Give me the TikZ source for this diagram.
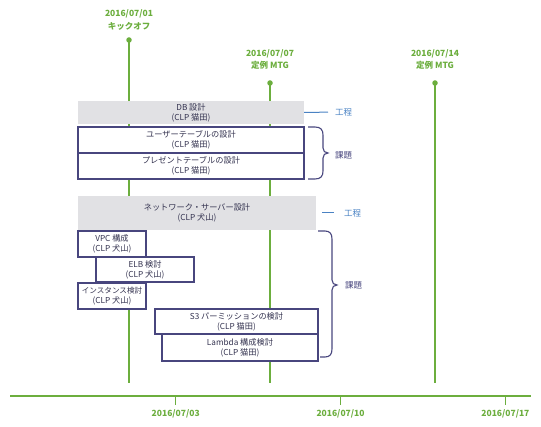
\documentclass[tikz,border=0pt]{standalone}
\usepackage{fontspec}
\setmainfont{Noto Sans CJK JP}
\definecolor{tlgreen}{HTML}{6CAE3E}
\definecolor{phasegray}{HTML}{E1E1E4}
\definecolor{boxtext}{HTML}{33324F}
\definecolor{boxline}{HTML}{48467E}
\definecolor{koteiblue}{HTML}{4A82C3}
\begin{document}
\begin{tikzpicture}[x=1pt,y=-1pt,
  lab/.style={text=tlgreen, font=\fontsize{8.5}{12.5}\selectfont\bfseries, align=center, inner sep=0},
  gline/.style={draw=tlgreen, line width=1.5pt},
  axisline/.style={draw=tlgreen, line width=1.3pt},
  dot/.style={circle, fill=tlgreen, inner sep=0, minimum size=5.5pt},
  phase/.style={fill=phasegray, text=boxtext, font=\fontsize{8.2}{10}\selectfont, align=center, inner sep=0},
  task/.style={draw=boxline, line width=1.1pt, fill=white, text=boxtext, font=\fontsize{8.2}{10}\selectfont, align=center, inner sep=0},
  kotei/.style={text=koteiblue, font=\fontsize{8.5}{10}\selectfont, inner sep=0},
  kadai/.style={text=boxline, font=\fontsize{8.5}{10}\selectfont, inner sep=0},
  koteiline/.style={draw=koteiblue, line width=1pt},
  bracel/.style={draw=boxline, line width=1.1pt}
]
\useasboundingbox (0,0) rectangle (541,427);

% top labels and dots
\node[lab] (l1) at (129,20) {2016/07/01\\キックオフ};
\node[lab] (l2) at (270,59.5) {2016/07/07\\定例 MTG};
\node[lab] (l3) at (435,59.5) {2016/07/14\\定例 MTG};
\node[dot] (d1) at (129,40) {};
\node[dot] (d2) at (270,83) {};
\node[dot] (d3) at (435,83) {};
\coordinate (e1) at (129,383);
\coordinate (e2) at (270,383);
\coordinate (e3) at (435,383);
\draw[gline] (d1.center) -- (e1);
\draw[gline] (d2.center) -- (e2);
\draw[gline] (d3.center) -- (e3);

% axis
\coordinate (a0) at (10,396);
\coordinate (a1) at (531,396);
\draw[axisline] (a0) -- (a1);
\node[lab, anchor=north] (t1) at (175.7,409) {2016/07/03};
\node[lab, anchor=north] (t2) at (340.5,409) {2016/07/10};
\node[lab, anchor=north] (t3) at (505.4,409) {2016/07/17};
\coordinate (k1) at (175.7,396);
\coordinate (k2) at (340.5,396);
\coordinate (k3) at (505.4,396);
\draw[axisline] (k1) -- ++(0,9);
\draw[axisline] (k2) -- ++(0,9);
\draw[axisline] (k3) -- ++(0,9);

% DB phase
\node[phase, minimum width=226pt, minimum height=23pt] (db) at (191,112.5) {DB 設計\\(CLP 猫田)};
\node[task, minimum width=226pt, minimum height=26pt] (user) at (191,140) {ユーザーテーブルの設計\\(CLP 猫田)};
\node[task, minimum width=226pt, minimum height=26pt] (pres) at (191,166) {プレゼントテーブルの設計\\(CLP 猫田)};

% Network phase
\node[phase, minimum width=238pt, minimum height=34pt] (net) at (197,213) {ネットワーク・サーバー設計\\(CLP 犬山)};
\node[task, minimum width=68pt, minimum height=26pt] (vpc) at (112,244) {VPC 構成\\(CLP 犬山)};
\node[task, minimum width=98pt, minimum height=25pt] (elb) at (145,269.5) {ELB 検討\\(CLP 犬山)};
\node[task, minimum width=68pt, minimum height=26pt] (inst) at (112,296) {\fontsize{7.6}{10}\selectfont インスタンス検討\\(CLP 犬山)};
\node[task, minimum width=163pt, minimum height=25pt] (s3) at (236.5,321.5) {S3 パーミッションの検討\\(CLP 猫田)};
\node[task, minimum width=156pt, minimum height=27pt] (lam) at (240,347.5) {Lambda 構成検討\\(CLP 猫田)};

% labels 工程 / 課題
\node[kotei, anchor=west] (kt1) at (335,112) {工程};
\node[kotei, anchor=west] (kt2) at (344,213) {工程};
\draw[koteiline, shorten >=7pt] (db.east) -- (kt1.west);
\draw[koteiline, shorten <=6pt, shorten >=10pt] (net.east) -- (kt2.west);
\node[kadai, anchor=west] (kd1) at (335,155) {課題};
\node[kadai, anchor=west] (kd2) at (345,285) {課題};

% braces
\draw[bracel] (308,127) -- (315,127) .. controls (321,127) and (323,130) .. (323,135)
  -- (323,148) .. controls (323,151) and (325,153) .. (328,153)
  .. controls (325,153) and (323,155) .. (323,158)
  -- (323,171) .. controls (323,176) and (321,179) .. (315,179) -- (308,179);
\draw[bracel] (318,231) -- (325,231) .. controls (330,231) and (332,234) .. (332,239)
  -- (332,280) .. controls (332,283) and (334,285) .. (337,285)
  .. controls (334,285) and (332,287) .. (332,290)
  -- (332,349) .. controls (332,354) and (330,357) .. (325,357) -- (320,357);
\end{tikzpicture}
\end{document}
